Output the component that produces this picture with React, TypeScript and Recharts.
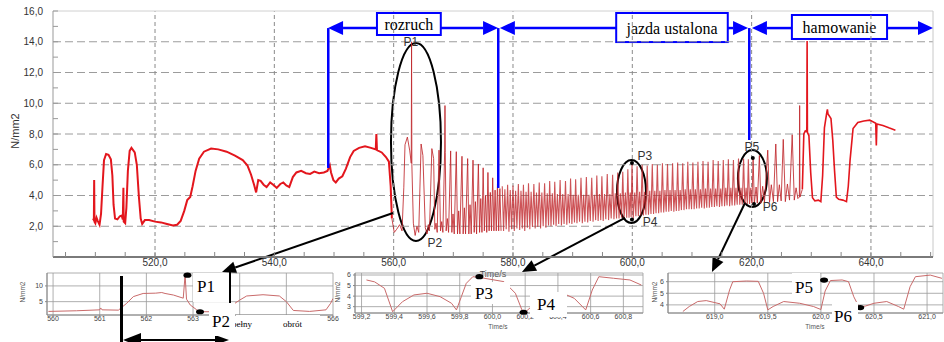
import React from "react";
import {
  LineChart,
  Line,
  XAxis,
  YAxis,
  CartesianGrid,
  ReferenceLine,
  ReferenceArea,
  ReferenceDot,
} from "recharts";

type Pt = [number, number];

// main trace, stand-still / idle part (time s, stress N/mm2)
const idlePts: Pt[] = [
  [509.6, 2.5], [509.75, 2.4], [509.8, 5.0], [509.85, 2.3], [510.0, 2.2], [510.2, 2.55], [510.4, 2.35],
  [510.7, 2.1], [510.95, 2.8], [511.2, 4.6], [511.45, 6.3], [511.8, 6.7], [512.2, 6.65], [512.6, 6.35],
  [512.85, 5.3], [513.05, 3.4], [513.3, 2.5], [513.7, 2.45], [514.1, 2.65], [514.4, 2.7], [514.6, 2.45],
  [514.7, 4.5], [514.75, 2.3], [515.0, 2.2], [515.2, 3.2], [515.45, 5.6], [515.75, 6.9], [516.05, 7.1],
  [516.6, 6.8], [516.95, 6.0], [517.3, 3.9], [517.6, 2.5], [517.85, 2.15], [518.3, 2.4], [519.0, 2.4],
  [520.0, 2.3], [521.0, 2.25], [522.0, 2.15], [523.0, 2.05], [523.7, 2.1], [524.3, 2.35], [524.9, 3.0],
  [525.4, 3.7], [525.9, 3.9], [526.3, 4.6], [526.8, 5.6], [527.4, 6.4], [528.2, 6.85], [529.4, 7.05],
  [530.6, 7.0], [532.0, 6.85], [533.4, 6.6], [534.7, 6.3], [535.5, 5.95], [536.1, 5.35], [536.6, 4.7],
  [536.95, 4.2], [537.3, 5.0], [537.7, 4.95], [538.2, 4.7], [538.7, 4.55], [539.3, 4.85], [539.8, 4.7],
  [540.4, 4.5], [541.0, 4.75], [541.5, 4.85], [542.0, 4.65], [542.5, 4.55], [543.1, 5.2], [543.7, 5.5],
  [544.5, 5.6], [545.3, 5.45], [546.0, 5.4], [546.7, 5.55], [547.5, 5.45], [548.3, 5.5], [548.9, 5.6],
  [549.3, 5.95], [549.5, 5.5], [549.9, 5.0], [550.3, 4.85], [550.8, 5.1], [551.4, 5.25], [552.0, 5.75],
  [552.7, 6.5], [553.3, 6.9], [554.2, 7.1], [555.2, 7.2], [556.2, 7.1], [557.0, 7.0], [557.1, 8.0],
  [557.2, 6.95], [558.0, 6.8], [558.7, 6.5], [559.2, 6.2], [559.5, 4.6], [559.7, 2.5],
];

// start-up (rozruch)
const startPts: Pt[] = [
  [559.7, 2.5], [560.1, 1.6], [560.5, 1.8], [561.0, 2.1], [561.4, 1.7], [561.7, 4.5], [561.9, 7.3],
  [562.3, 7.8], [562.7, 6.9], [562.95, 6.1], [563.0, 14.0], [563.05, 6.0], [563.3, 2.2], [563.6, 1.4],
  [563.9, 2.0], [564.2, 1.6], [564.6, 7.35], [564.9, 6.6], [565.3, 1.9], [565.6, 1.5], [565.8, 2.1],
  [566.0, 1.7], [566.4, 7.05], [566.7, 6.4], [566.9, 1.8], [567.1, 2.2], [567.3, 1.6], [567.6, 6.95],
  [567.85, 1.7], [568.05, 2.3], [568.25, 1.6], [568.55, 6.95], [568.6, 9.85], [568.65, 6.8], [568.8, 1.7],
  [569.0, 2.5], [569.2, 1.6], [569.55, 6.9], [569.75, 1.6], [569.95, 2.8], [570.15, 1.5], [570.5, 6.85],
  [570.7, 1.5], [570.9, 3.0], [571.1, 1.5], [571.45, 6.55], [571.65, 1.5], [571.85, 3.2], [572.05, 1.5],
  [572.4, 6.4], [572.6, 1.5], [572.8, 3.4], [573.0, 1.5], [573.3, 6.3], [573.5, 1.6], [573.7, 3.6],
  [573.9, 1.5], [574.2, 6.05], [574.4, 1.6], [574.6, 3.8], [574.8, 1.6], [575.0, 5.8], [575.2, 1.7],
  [575.4, 4.0], [575.6, 1.6], [575.8, 5.5], [576.0, 1.7], [576.2, 4.2], [576.4, 1.7], [576.6, 5.15],
  [576.8, 1.7], [577.0, 4.35], [577.2, 1.7], [577.4, 4.75], [577.6, 1.7], [577.8, 4.45], [578.0, 1.7],
];

// steady running (jazda ustalona): peak, dip, hump, dip per revolution
const steadyPts: Pt[] = [
  [578.2, 4.6], [578.42, 1.7], [578.64, 4.4], [578.86, 1.8],
  [579.1, 4.7], [579.32, 1.65], [579.54, 4.35], [579.76, 1.8],
  [580.0, 4.65], [580.22, 1.7], [580.44, 4.3], [580.66, 1.85],
  [580.9, 4.75], [581.12, 1.75], [581.34, 4.3], [581.56, 1.85],
  [581.75, 4.7], [581.97, 1.7], [582.19, 4.25], [582.41, 1.9],
  [582.6, 4.8], [582.82, 1.8], [583.04, 4.25], [583.26, 1.95],
  [583.5, 4.75], [583.72, 1.85], [583.94, 4.2], [584.16, 1.95],
  [584.4, 4.85], [584.62, 1.85], [584.84, 4.2], [585.06, 2.0],
  [585.3, 4.8], [585.52, 1.9], [585.74, 4.15], [585.96, 2.05],
  [586.15, 4.95], [586.37, 2.0], [586.59, 4.15], [586.81, 2.1],
  [587.0, 4.9], [587.22, 2.0], [587.44, 4.1], [587.66, 2.15],
  [587.9, 5.0], [588.12, 2.05], [588.34, 4.1], [588.56, 2.15],
  [588.8, 4.95], [589.02, 2.1], [589.24, 4.1], [589.46, 2.2],
  [589.65, 5.1], [589.87, 2.15], [590.09, 4.05], [590.31, 2.25],
  [590.5, 5.05], [590.72, 2.2], [590.94, 4.05], [591.16, 2.3],
  [591.4, 5.15], [591.62, 2.2], [591.84, 4.05], [592.06, 2.3],
  [592.3, 5.2], [592.52, 2.25], [592.74, 4.05], [592.96, 2.35],
  [593.2, 5.15], [593.42, 2.3], [593.64, 4.05], [593.86, 2.4],
  [594.05, 5.3], [594.27, 2.35], [594.49, 4.1], [594.71, 2.4],
  [594.9, 5.25], [595.12, 2.35], [595.34, 4.1], [595.56, 2.45],
  [595.8, 5.4], [596.02, 2.4], [596.24, 4.1], [596.46, 2.5],
  [596.7, 5.35], [596.92, 2.45], [597.14, 4.15], [597.36, 2.5],
  [597.55, 5.5], [597.77, 2.5], [597.99, 4.15], [598.21, 2.55],
  [598.4, 5.55], [598.62, 2.5], [598.84, 4.2], [599.06, 2.55],
  [599.25, 5.7], [599.45, 2.55], [599.65, 4.2], [599.8, 2.6],
  [599.95, 6.1], [600.15, 2.45], [600.4, 4.2], [600.6, 2.65],
  [600.8, 5.9], [601.01, 2.65], [601.22, 4.25], [601.43, 2.7],
  [601.65, 6.0], [601.86, 2.7], [602.07, 4.25], [602.28, 2.75],
  [602.5, 5.95], [602.71, 2.75], [602.92, 4.3], [603.13, 2.8],
  [603.35, 6.05], [603.56, 2.8], [603.77, 4.3], [603.98, 2.85],
  [604.2, 6.0], [604.41, 2.85], [604.62, 4.3], [604.83, 2.9],
  [605.05, 6.1], [605.26, 2.9], [605.47, 4.35], [605.68, 2.95],
  [605.9, 6.05], [606.11, 2.95], [606.32, 4.35], [606.53, 3.0],
  [606.75, 6.1], [606.96, 2.95], [607.17, 4.35], [607.38, 3.0],
  [607.6, 6.15], [607.81, 3.0], [608.02, 4.35], [608.23, 3.05],
  [608.45, 6.1], [608.66, 3.05], [608.87, 4.4], [609.08, 3.1],
  [609.3, 6.2], [609.51, 3.1], [609.72, 4.4], [609.93, 3.1],
  [610.15, 6.15], [610.36, 3.1], [610.57, 4.4], [610.78, 3.15],
  [611.0, 6.2], [611.21, 3.15], [611.42, 4.4], [611.63, 3.2],
  [611.85, 6.25], [612.06, 3.15], [612.27, 4.45], [612.48, 3.2],
  [612.7, 6.2], [612.91, 3.2], [613.12, 4.45], [613.33, 3.25],
  [613.55, 6.3], [613.76, 3.25], [613.97, 4.45], [614.18, 3.3],
  [614.4, 6.25], [614.61, 3.25], [614.82, 4.45], [615.03, 3.3],
  [615.25, 6.3], [615.46, 3.3], [615.67, 4.5], [615.88, 3.35],
  [616.1, 6.35], [616.31, 3.3], [616.52, 4.5], [616.73, 3.35],
  [616.95, 6.3], [617.16, 3.35], [617.37, 4.5], [617.58, 3.4],
  [617.8, 6.4], [618.01, 3.4], [618.22, 4.5], [618.43, 3.4],
  [618.65, 6.4], [618.86, 3.4], [619.07, 4.5], [619.28, 3.45],
  [619.45, 6.35], [619.65, 3.45], [619.85, 4.5], [620.05, 3.5],
];

// braking (hamowanie), fast part
const brakePts: Pt[] = [
  [620.05, 3.5], [620.25, 6.45], [620.45, 3.45], [620.75, 4.55], [620.95, 3.5], [621.3, 6.6],
  [621.55, 3.5], [621.85, 4.6], [622.15, 3.55], [622.7, 6.95], [623.0, 3.55], [623.3, 4.7],
  [623.65, 3.6], [624.05, 7.35], [624.35, 3.6], [624.65, 4.7], [624.95, 3.65], [625.3, 7.65],
  [625.65, 3.6], [626.0, 4.75], [626.35, 3.7], [626.8, 7.95], [627.15, 3.7], [627.45, 4.5],
  [627.75, 3.8], [628.0, 3.9], [628.05, 9.85], [628.1, 3.9], [628.5, 4.4],
];

// braking, last slow revolutions and stop
const stopPts: Pt[] = [
  [628.5, 4.4], [628.75, 8.0], [629.0, 8.2], [629.25, 8.15], [629.3, 14.05], [629.35, 8.1], [629.6, 7.9],
  [629.9, 5.5], [630.2, 3.85], [630.6, 3.65], [631.2, 3.7], [631.6, 3.6], [631.9, 5.3], [632.2, 8.4],
  [632.6, 9.4], [632.7, 9.6], [632.8, 9.3], [633.3, 9.0], [633.6, 7.6], [633.9, 5.6], [634.2, 3.9],
  [634.6, 3.75], [635.3, 3.7], [635.9, 3.6], [636.2, 4.6], [636.5, 6.3], [637.0, 8.35], [637.8, 8.75],
  [638.8, 8.85], [639.8, 8.9], [640.8, 8.7], [640.9, 7.25], [641.0, 8.65], [642.0, 8.55], [643.0, 8.4],
  [644.1, 8.25],
];

// zoomed windows
const zoom1Pts: Pt[] = [
  [559.9, 1.9], [560.5, 2.1], [561.0, 2.4], [561.02, 3.0], [561.05, 2.4], [561.4, 2.3], [561.58, 4.5],
  [561.72, 6.6], [561.93, 7.6], [562.2, 7.7], [562.33, 7.9], [562.4, 7.6], [562.58, 7.1], [562.79, 6.1],
  [562.83, 13.5], [562.86, 5.8], [562.94, 3.95], [563.08, 2.4], [563.15, 1.8], [563.4, 1.8], [563.7, 2.5],
  [564.0, 5.5], [564.15, 6.8], [564.5, 7.2], [564.85, 6.8], [565.0, 5.0], [565.15, 2.2], [565.5, 1.9],
  [565.85, 2.4], [565.95, 4.5], [566.0, 6.0],
];
const zoom2Pts: Pt[] = [
  [599.23, 5.53], [599.28, 5.35], [599.34, 4.74], [599.39, 2.52], [599.45, 3.47], [599.52, 4.11],
  [599.6, 4.27], [599.68, 3.95], [599.75, 3.32], [599.78, 2.69], [599.81, 3.95], [599.84, 5.21],
  [599.88, 5.84], [599.94, 5.72], [600.07, 5.37], [600.14, 4.27], [600.18, 2.69], [600.2, 2.47],
  [600.31, 4.01], [600.43, 4.27], [600.5, 3.79], [600.57, 2.69], [600.61, 4.58], [600.65, 5.84],
  [600.74, 5.69], [600.84, 5.53], [600.91, 5.05],
];
const zoom3Pts: Pt[] = [
  [618.7, 3.43], [618.76, 3.86], [618.84, 4.29], [618.92, 4.37], [619.05, 4.09], [619.09, 3.63],
  [619.14, 5.29], [619.17, 6.0], [619.3, 6.06], [619.41, 6.03], [619.46, 5.0], [619.5, 3.57],
  [619.55, 3.86], [619.65, 4.29], [619.8, 4.14], [619.93, 3.86], [620.0, 3.6], [620.04, 5.2],
  [620.09, 6.1], [620.2, 6.15], [620.26, 6.0], [620.31, 4.7], [620.36, 3.8], [620.42, 3.9],
  [620.5, 4.14], [620.62, 4.29], [620.73, 3.86], [620.78, 3.63], [620.84, 5.57], [620.89, 6.43],
  [621.03, 6.57], [621.14, 6.29],
];

const xTicks = [505, 510, 515, 520, 525, 530, 535, 540, 545, 550, 555, 560, 565, 570, 575, 580, 585,
  590, 595, 600, 605, 610, 615, 620, 625, 630, 635, 640, 645, 650];
const yTicks = [1, 2, 3, 4, 5, 6, 7, 8, 9, 10, 11, 12, 13, 14, 15, 16];
const xGrid = [520, 540, 560, 580, 600, 620, 640];
const yGrid = [2, 4, 6, 8, 10, 12, 14];
const zoom1Ticks = [560, 561, 562, 563, 564, 565, 566];
const zoom1Shown = [560, 561, 562, 563, 566];
const zoom2Ticks = [599.2, 599.4, 599.6, 599.8, 600.0, 600.2, 600.4, 600.6, 600.8];
const zoom3Ticks = [619.0, 619.5, 620.0, 620.5, 621.0];

// phase annotations (data units)
const phases = [
  { text: "rozruch", x1: 557.2, x2: 567.9, y1: 14.44, y2: 15.87 },
  { text: "jazda ustalona", x1: 597.3, x2: 616.0, y1: 13.98, y2: 15.87 },
  { text: "hamowanie", x1: 626.75, x2: 642.7, y1: 14.18, y2: 15.74 },
];
const arrowY = 14.89;
const blueArrows = [
  [557.2, 549.0], [567.9, 577.5], [597.3, 577.8], [616.0, 619.4], [626.75, 620.05], [642.7, 650.4],
];
const blueMarks = [
  { x: 549.04, y: 5.79 },
  { x: 577.53, y: 4.49 },
  { x: 619.6, y: 7.61 },
];
const ovals = [
  { x1: 559.55, x2: 567.93, y1: 1.04, y2: 13.92 },
  { x1: 597.43, x2: 602.29, y1: 2.21, y2: 6.31 },
  { x1: 617.7, x2: 622.56, y1: 3.25, y2: 6.96 },
];
const pointers = [
  [559.89, 2.86, 531.23, -0.98],
  [598.77, 2.54, 581.5, -0.98],
  [618.88, 3.51, 613.35, -0.98],
];
const tags = [
  { t: "P1", x: 562.9, y: 13.98 },
  { t: "P2", x: 566.9, y: 0.91 },
  { t: "P3", x: 602.1, y: 6.57 },
  { t: "P4", x: 603.0, y: 2.28 },
  { t: "P5", x: 620.05, y: 7.15 },
  { t: "P6", x: 623.1, y: 3.25 },
];
const tagDots = [
  [599.94, 6.11], [599.94, 2.44], [620.2, 6.44], [620.4, 3.45],
];

const rows = (pts: Pt[]) => pts.map(([t, v]) => ({ t, v }));
const comma = (v: number, d: number) => v.toFixed(d).replace(".", ",");

const arrowShape = (color: string, w: number, len: number, half: number) => (p: any) => {
  const { x1, y1, x2, y2 } = p;
  const a = Math.atan2(y2 - y1, x2 - x1);
  const hx = x2 - len * Math.cos(a);
  const hy = y2 - len * Math.sin(a);
  const nx = -Math.sin(a) * half;
  const ny = Math.cos(a) * half;
  return (
    <g>
      <line x1={x1} y1={y1} x2={hx} y2={hy} stroke={color} strokeWidth={w} />
      <polygon points={`${x2},${y2} ${hx + nx},${hy + ny} ${hx - nx},${hy - ny}`} fill={color} />
    </g>
  );
};

const boxShape = (text: string) => (p: any) => (
  <g>
    <rect x={p.x} y={p.y} width={p.width} height={p.height} fill="#fff" stroke="#0000ff" strokeWidth={2} />
    <text
      x={p.x + p.width / 2}
      y={p.y + p.height / 2 + 1}
      textAnchor="middle"
      dominantBaseline="central"
      fontFamily="'Liberation Serif', 'Times New Roman', serif"
      fontSize={16}
      fill="#000"
    >
      {text}
    </text>
  </g>
);

const ovalShape = (p: any) => (
  <ellipse
    cx={p.x + p.width / 2}
    cy={p.y + p.height / 2}
    rx={p.width / 2}
    ry={p.height / 2}
    fill="none"
    stroke="#000"
    strokeWidth={2}
  />
);

const tagShape = (text: string) => (p: any) => (
  <text x={p.cx} y={p.cy} textAnchor="middle" dominantBaseline="central" fontSize={12} fill="#333">
    {text}
  </text>
);

const blackDot = (rx: number, ry: number) => (p: any) => (
  <ellipse cx={p.cx} cy={p.cy} rx={rx} ry={ry} fill="#000" />
);

interface InsetProps {
  left: number;
  width: number;
  plotLeft: number;
  plotRight: number;
  plotH: number;
  yWidth: number;
  pts: Pt[];
  xDomain: [number, number];
  xTicks: number[];
  xShown?: number[];
  xDigits: number;
  yDomain: [number, number];
  yTicks: number[];
  dots: Pt[];
}

function Inset(props: InsetProps) {
  const { left, width, plotLeft, plotRight, plotH, yWidth, pts, xDomain, xTicks, xShown, xDigits, yDomain, yTicks, dots } = props;
  const height = 74;
  const axisH = 10;
  return (
    <div style={{ position: "absolute", left, top: 268 }}>
      <LineChart
        width={width}
        height={height}
        margin={{ top: 5, left: plotLeft - left - yWidth, right: left + width - plotRight, bottom: height - 5 - plotH - axisH }}
      >
        <CartesianGrid stroke="#9a9a9a" strokeWidth={0.8} />
        <ReferenceArea fill="none" stroke="#b5b5b5" strokeWidth={1} ifOverflow="visible" />
        <XAxis
          type="number"
          dataKey="t"
          domain={xDomain}
          ticks={xTicks}
          interval={0}
          allowDataOverflow
          height={axisH}
          tickFormatter={(v: number) => (!xShown || xShown.includes(v) ? comma(v, xDigits) : "")}
          tick={{ fontSize: 7, fill: "#444" }}
          tickSize={1}
          tickMargin={0}
          stroke="#888"
        />
        <YAxis
          type="number"
          domain={yDomain}
          ticks={yTicks}
          interval={0}
          allowDataOverflow
          width={yWidth}
          tick={{ fontSize: 7, fill: "#444" }}
          tickSize={2}
          tickMargin={2}
          stroke="#888"
        />
        <Line
          data={rows(pts)}
          dataKey="v"
          type="linear"
          stroke="#c96a6a"
          strokeWidth={1}
          dot={false}
          activeDot={false}
          isAnimationActive={false}
        />
        {dots.map(([x, y], i) => (
          <ReferenceDot key={i} x={x} y={y} r={3} ifOverflow="visible" shape={blackDot(4, 2.6)} />
        ))}
      </LineChart>
    </div>
  );
}

const serif = "'Liberation Serif', 'Times New Roman', serif";

export default function App() {
  return (
    <div
      style={{
        position: "absolute",
        left: 0,
        top: 0,
        width: 944,
        height: 342,
        background: "#fff",
        overflow: "hidden",
        fontFamily: "'Liberation Sans', Arial, sans-serif",
      }}
    >
      <div style={{ position: "absolute", left: 0, top: 0 }}>
        <LineChart width={944} height={342} margin={{ top: 11, right: 11, left: 8, bottom: 65 }}>
          <XAxis
            type="number"
            dataKey="t"
            domain={[502.9, 650.4]}
            ticks={xTicks}
            interval={0}
            allowDataOverflow
            height={20}
            tickFormatter={(v: number) => (v % 20 === 0 ? comma(v, 1) : "")}
            tick={{ fontSize: 10, fill: "#333" }}
            tickSize={-5}
            tickMargin={7}
            axisLine={{ stroke: "#7a7a7a", strokeWidth: 2 }}
            tickLine={{ stroke: "#888" }}
            label={{ value: "Time/s", position: "insideBottom", offset: 0, fontSize: 9, fill: "#444" }}
          />
          <YAxis
            type="number"
            domain={[0, 16]}
            ticks={yTicks}
            interval={0}
            allowDataOverflow
            width={45}
            tickFormatter={(v: number) => (v % 2 === 0 ? comma(v, 1) : "")}
            tick={{ fontSize: 10, fill: "#333" }}
            tickSize={-5}
            tickMargin={15}
            axisLine={{ stroke: "#999" }}
            tickLine={{ stroke: "#999" }}
          />
          {yGrid.map((y) => (
            <ReferenceLine key={`gy${y}`} y={y} stroke="#9c9c9c" strokeDasharray="8 4" strokeWidth={1} />
          ))}
          {xGrid.map((x) => (
            <ReferenceLine key={`gx${x}`} x={x} stroke="#8a8a8a" strokeDasharray="4 3" strokeWidth={1} />
          ))}
          <ReferenceLine y={16} stroke="#d0d0d0" strokeWidth={1} />
          <ReferenceLine x={650.4} stroke="#c8c8c8" strokeWidth={1} />

          <Line data={rows(idlePts)} dataKey="v" type="linear" stroke="#e3161d" strokeWidth={2}
            dot={false} activeDot={false} isAnimationActive={false} />
          <Line data={rows(startPts)} dataKey="v" type="linear" stroke="#c0282d" strokeWidth={1}
            strokeOpacity={0.85} dot={false} activeDot={false} isAnimationActive={false} />
          <Line data={rows(steadyPts)} dataKey="v" type="linear" stroke="#c0282d" strokeWidth={1.1}
            strokeOpacity={0.8} dot={false} activeDot={false} isAnimationActive={false} />
          <Line data={rows(brakePts)} dataKey="v" type="linear" stroke="#c0282d" strokeWidth={1}
            strokeOpacity={0.85} dot={false} activeDot={false} isAnimationActive={false} />
          <Line data={rows(stopPts)} dataKey="v" type="linear" stroke="#e3161d" strokeWidth={1.6}
            dot={false} activeDot={false} isAnimationActive={false} />

          {tags.map((g) => (
            <ReferenceDot key={g.t} x={g.x} y={g.y} r={1} ifOverflow="visible" shape={tagShape(g.t)} />
          ))}
          {tagDots.map(([x, y], i) => (
            <ReferenceDot key={`d${i}`} x={x} y={y} r={2} ifOverflow="visible" shape={blackDot(2, 2)} />
          ))}

          {blueMarks.map((m, i) => (
            <ReferenceLine
              key={`bm${i}`}
              segment={[{ x: m.x, y: arrowY }, { x: m.x, y: m.y }]}
              stroke="#0000ff"
              strokeWidth={2.5}
              ifOverflow="visible"
            />
          ))}
          {blueArrows.map(([a, b], i) => (
            <ReferenceLine
              key={`ba${i}`}
              segment={[{ x: a, y: arrowY }, { x: b, y: arrowY }]}
              ifOverflow="visible"
              shape={arrowShape("#0000ff", 2.5, 15, 7)}
            />
          ))}
          {phases.map((p) => (
            <ReferenceArea
              key={p.text}
              x1={p.x1}
              x2={p.x2}
              y1={p.y1}
              y2={p.y2}
              ifOverflow="visible"
              shape={boxShape(p.text)}
            />
          ))}
          {ovals.map((o, i) => (
            <ReferenceArea key={`ov${i}`} x1={o.x1} x2={o.x2} y1={o.y1} y2={o.y2} ifOverflow="visible" shape={ovalShape} />
          ))}
          {pointers.map(([xa, ya, xb, yb], i) => (
            <ReferenceLine
              key={`pt${i}`}
              segment={[{ x: xa, y: ya }, { x: xb, y: yb }]}
              ifOverflow="visible"
              shape={arrowShape("#000", 2, 14, 6)}
            />
          ))}
        </LineChart>
      </div>

      <Inset left={0} width={340} plotLeft={47} plotRight={333} plotH={42} yWidth={16}
        pts={zoom1Pts} xDomain={[559.87, 566.0]} xTicks={zoom1Ticks} xShown={zoom1Shown} xDigits={0}
        yDomain={[0.76, 14.1]} yTicks={[5, 10]} dots={[[562.88, 13.4], [563.15, 1.8]]} />
      <Inset left={325} width={320} plotLeft={355} plotRight={643} plotH={40} yWidth={12}
        pts={zoom2Pts} xDomain={[599.16, 600.92]} xTicks={zoom2Ticks} xDigits={1}
        yDomain={[2.4, 6.19]} yTicks={[3, 4, 5, 6]} dots={[[599.92, 5.84], [600.19, 2.47]]} />
      <Inset left={640} width={304} plotLeft={668} plotRight={943} plotH={40} yWidth={10}
        pts={zoom3Pts} xDomain={[618.56, 621.15]} xTicks={zoom3Ticks} xDigits={1}
        yDomain={[3.3, 6.75]} yTicks={[4, 5, 6]} dots={[[620.03, 6.14], [620.37, 3.77]]} />

      <svg width={944} height={342} style={{ position: "absolute", left: 0, top: 0, pointerEvents: "none" }}>
        <text transform="translate(15,131) rotate(-90)" textAnchor="middle" dominantBaseline="central" fontSize={11} fill="#333">
          N/mm2
        </text>
        <text transform="translate(22,292) rotate(-90)" textAnchor="middle" dominantBaseline="central" fontSize={6.5} fill="#555">N/mm2</text>
        <text transform="translate(337,292) rotate(-90)" textAnchor="middle" dominantBaseline="central" fontSize={6.5} fill="#555">N/mm2</text>
        <text transform="translate(654,292) rotate(-90)" textAnchor="middle" dominantBaseline="central" fontSize={6.5} fill="#555">N/mm2</text>
        <text x={498} y={329} textAnchor="middle" fontSize={6.5} fill="#555">Time/s</text>
        <text x={815} y={329} textAnchor="middle" fontSize={6.5} fill="#555">Time/s</text>

        {/* full revolution marker */}
        <line x1={121.5} y1={276} x2={121.5} y2={342} stroke="#000" strokeWidth={3} />
        <line x1={140} y1={340} x2={216} y2={340} stroke="#000" strokeWidth={2} />
        <polygon points="123,340 141,333 141,347" fill="#000" />
        <polygon points="229,340 215,335 215,345" fill="#000" />
        <rect x={236} y={315} width={84} height={21} fill="#fff" />
        <text x={232} y={327} fontFamily={serif} fontSize={9} fill="#000">pełny</text>
        <text x={283} y={327} fontFamily={serif} fontSize={9} fill="#000">obrót</text>

        <rect x={193} y={273} width={36} height={29} fill="#fff" />
        <text x={197} y={292} fontFamily={serif} fontSize={17} fill="#000">P1</text>
        <line x1={230} y1={272} x2={230} y2={303} stroke="#000" strokeWidth={2} />
        <rect x={209} y={303} width={26} height={33} fill="#fff" />
        <text x={212} y={327} fontFamily={serif} fontSize={17} fill="#000">P2</text>

        <rect x={471} y={282} width={39} height={22} fill="#fff" />
        <text x={475} y={299} fontFamily={serif} fontSize={17} fill="#000">P3</text>
        <rect x={530} y={292} width={37} height={25} fill="#fff" />
        <text x={537} y={310} fontFamily={serif} fontSize={17} fill="#000">P4</text>

        <rect x={792} y={273} width={28} height={25} fill="#fff" />
        <text x={795} y={293} fontFamily={serif} fontSize={17} fill="#000">P5</text>
        <rect x={832} y={302} width={26} height={25} fill="#fff" />
        <text x={834} y={322} fontFamily={serif} fontSize={17} fill="#000">P6</text>
      </svg>
    </div>
  );
}
